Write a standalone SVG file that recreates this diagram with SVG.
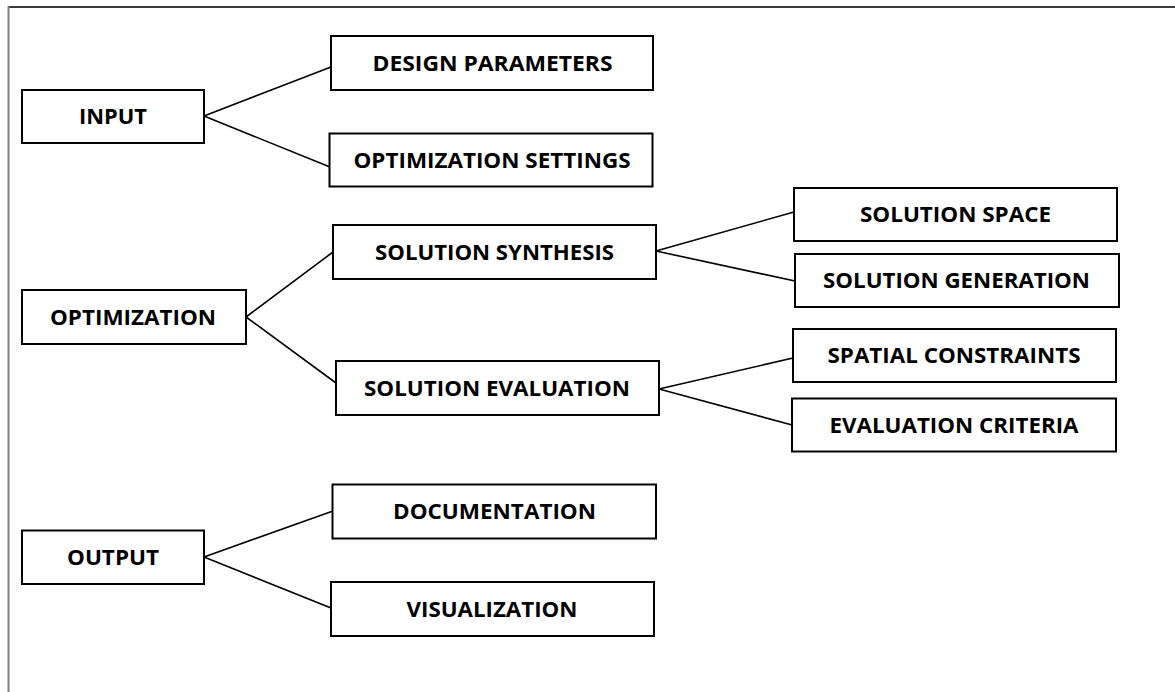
<svg xmlns="http://www.w3.org/2000/svg" width="1175" height="692" viewBox="0 0 1175 692">
  <style>
    .box { fill: #ffffff; stroke: #000000; stroke-width: 2; }
    .lbl { font-family: "Open Sans", "Liberation Sans", sans-serif; font-weight: bold; font-size: 21px; fill: #000000; text-anchor: middle; }
    .link { stroke: #000000; stroke-width: 1.6; fill: none; }
  </style>
  <rect width="1175" height="692" fill="#ffffff"/>

  <!-- page frame -->
  <g id="frame">
    <line x1="8" y1="7" x2="1175" y2="7" stroke="#3a3a3a" stroke-width="2"/>
    <line x1="8.5" y1="6" x2="8.5" y2="692" stroke="#808080" stroke-width="2"/>
  </g>

  <!-- connectors -->
  <g id="connectors">
    <line class="link" x1="204" y1="116" x2="331" y2="67"/>
    <line class="link" x1="204" y1="116" x2="330" y2="167"/>
    <line class="link" x1="246" y1="317" x2="333" y2="252"/>
    <line class="link" x1="246" y1="317" x2="336" y2="383"/>
    <line class="link" x1="656" y1="251" x2="794" y2="212"/>
    <line class="link" x1="656" y1="251" x2="795" y2="281"/>
    <line class="link" x1="659" y1="389" x2="793" y2="358"/>
    <line class="link" x1="659" y1="389" x2="792" y2="425"/>
    <line class="link" x1="204" y1="557" x2="333" y2="511"/>
    <line class="link" x1="204" y1="557" x2="331" y2="608"/>
  </g>

  <g id="input">
    <rect class="box" x="22" y="90" width="182" height="53"/>
    <text class="lbl" x="113" y="124" textLength="68" lengthAdjust="spacingAndGlyphs">INPUT</text>
  </g>
  <g id="design-parameters">
    <rect class="box" x="331" y="36" width="322" height="54"/>
    <text class="lbl" x="492.5" y="71" textLength="240" lengthAdjust="spacingAndGlyphs">DESIGN PARAMETERS</text>
  </g>
  <g id="optimization-settings">
    <rect class="box" x="329.5" y="133.5" width="323" height="53"/>
    <text class="lbl" x="492" y="167.5" textLength="277" lengthAdjust="spacingAndGlyphs">OPTIMIZATION SETTINGS</text>
  </g>

  <g id="optimization">
    <rect class="box" x="22" y="290" width="224" height="54"/>
    <text class="lbl" x="133" y="324.5" textLength="166" lengthAdjust="spacingAndGlyphs">OPTIMIZATION</text>
  </g>
  <g id="solution-synthesis">
    <rect class="box" x="333" y="225" width="323" height="54"/>
    <text class="lbl" x="494.5" y="259.5" textLength="239" lengthAdjust="spacingAndGlyphs">SOLUTION SYNTHESIS</text>
  </g>
  <g id="solution-evaluation">
    <rect class="box" x="336" y="361" width="323" height="54"/>
    <text class="lbl" x="497" y="395.5" textLength="266" lengthAdjust="spacingAndGlyphs">SOLUTION EVALUATION</text>
  </g>
  <g id="solution-space">
    <rect class="box" x="794" y="188" width="323" height="53"/>
    <text class="lbl" x="955.5" y="222" textLength="191" lengthAdjust="spacingAndGlyphs">SOLUTION SPACE</text>
  </g>
  <g id="solution-generation">
    <rect class="box" x="795" y="254" width="324" height="53"/>
    <text class="lbl" x="956.5" y="288" textLength="267" lengthAdjust="spacingAndGlyphs">SOLUTION GENERATION</text>
  </g>
  <g id="spatial-constraints">
    <rect class="box" x="793" y="329" width="323" height="53"/>
    <text class="lbl" x="954" y="363" textLength="253" lengthAdjust="spacingAndGlyphs">SPATIAL CONSTRAINTS</text>
  </g>
  <g id="evaluation-criteria">
    <rect class="box" x="792" y="398.5" width="324" height="53"/>
    <text class="lbl" x="954" y="432.5" textLength="249" lengthAdjust="spacingAndGlyphs">EVALUATION CRITERIA</text>
  </g>

  <g id="output">
    <rect class="box" x="22" y="530.5" width="182" height="53.5"/>
    <text class="lbl" x="113" y="565" textLength="92" lengthAdjust="spacingAndGlyphs">OUTPUT</text>
  </g>
  <g id="documentation">
    <rect class="box" x="332.5" y="484.5" width="323.5" height="54"/>
    <text class="lbl" x="494.5" y="519" textLength="203" lengthAdjust="spacingAndGlyphs">DOCUMENTATION</text>
  </g>
  <g id="visualization">
    <rect class="box" x="331" y="582" width="323" height="54"/>
    <text class="lbl" x="492" y="616.5" textLength="171" lengthAdjust="spacingAndGlyphs">VISUALIZATION</text>
  </g>
</svg>
